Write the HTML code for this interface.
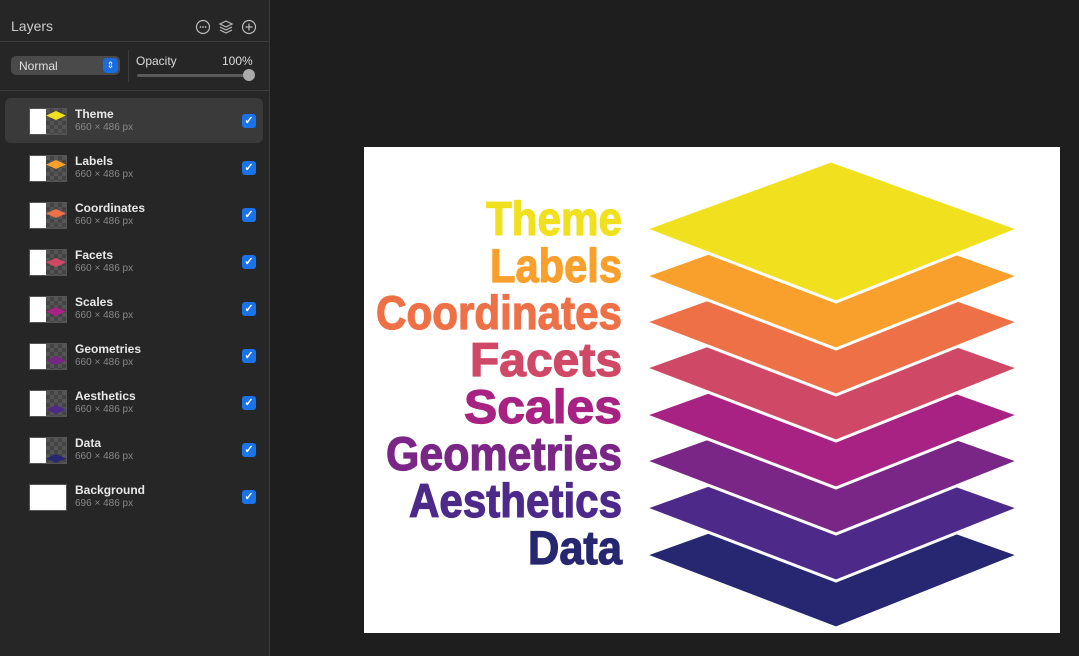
<!DOCTYPE html>
<html><head><meta charset="utf-8"><style>
body{margin:0;width:1079px;height:656px;background:#1e1e1e;font-family:"Liberation Sans",sans-serif;overflow:hidden;position:relative}
.side{position:absolute;left:0;top:0;width:269px;height:656px;background:#262626;border-right:1px solid #3a3a3a}
.t{position:absolute;color:#ddd}
.row{position:absolute;left:5px;width:258px;height:45px}
.row.sel{background:#3a3a3a;border-radius:6px}
.thumb{position:absolute;left:24px;top:10px;width:36px;height:25px;background:#fff;border:1px solid #555}
.thumb .ck{position:absolute;left:16px;top:0;width:20px;height:25px;background:repeating-conic-gradient(#444 0 25%,#555 0 50%) 0 0/8px 8px}
.thumb .d{position:absolute;left:16px;top:2px;width:20px;height:9px;clip-path:polygon(50% 0,100% 50%,50% 100%,0 50%)}
.nm{position:absolute;left:70px;top:9px;color:#e8e8e8;font-size:12px;font-weight:bold}
.sz{position:absolute;left:70px;top:24px;color:#888;font-size:10px}
.cb{position:absolute;left:237px;top:16px;width:14px;height:14px;background:#1a73e8;border-radius:3px;color:#fff;font-size:11px;line-height:14px;text-align:center;font-weight:bold}
</style></head><body>
<div class="side">
<div class="t" style="left:11px;top:18px;font-size:14px;color:#ccc">Layers</div>
<svg style="position:absolute;left:195px;top:19px" width="64" height="16"><g fill="none" stroke="#bbb" stroke-width="1.2"><circle cx="8" cy="8" r="6.5"/><circle cx="54" cy="8" r="6.5"/><path d="M54 4.5v7M50.5 8h7"/><path d="M31 2l6 3-6 3-6-3z M25 8l6 3 6-3 M25 11l6 3 6-3"/></g><g fill="#bbb"><circle cx="5.5" cy="8" r="0.9"/><circle cx="8" cy="8" r="0.9"/><circle cx="10.5" cy="8" r="0.9"/></g></svg>
<div style="position:absolute;left:0;top:41px;width:269px;height:1px;background:#3c3c3c"></div>
<div style="position:absolute;left:11px;top:56px;width:109px;height:19px;background:#4a4a4a;border-radius:5px"></div>
<div class="t" style="left:19px;top:59px;font-size:12px;color:#e0e0e0">Normal</div>
<div style="position:absolute;left:103px;top:58px;width:15px;height:15px;background:#1a6be0;border-radius:4px;color:#fff;font-size:9px;text-align:center;line-height:15px">⇕</div>
<div style="position:absolute;left:128px;top:50px;width:1px;height:32px;background:#3c3c3c"></div>
<div class="t" style="left:136px;top:54px;font-size:12px">Opacity</div>
<div class="t" style="left:222px;top:54px;font-size:12px">100%</div>
<div style="position:absolute;left:137px;top:74px;width:112px;height:3px;background:#5a5a5a;border-radius:2px"></div>
<div style="position:absolute;left:243px;top:69px;width:12px;height:12px;background:#aaa;border-radius:50%"></div>
<div style="position:absolute;left:0;top:90px;width:269px;height:1px;background:#3c3c3c"></div>

<div class="row sel" style="top:98px"><div class="thumb"><div class="ck"></div><div class="d" style="background:#f0e01e"></div></div><div class="nm">Theme</div><div class="sz">660 × 486 px</div><div class="cb">✓</div></div>
<div class="row" style="top:145px"><div class="thumb"><div class="ck"></div><div class="d" style="background:#f9a02c;top:4px"></div></div><div class="nm">Labels</div><div class="sz">660 × 486 px</div><div class="cb">✓</div></div>
<div class="row" style="top:192px"><div class="thumb"><div class="ck"></div><div class="d" style="background:#ee7046;top:6px"></div></div><div class="nm">Coordinates</div><div class="sz">660 × 486 px</div><div class="cb">✓</div></div>
<div class="row" style="top:239px"><div class="thumb"><div class="ck"></div><div class="d" style="background:#cf4866;top:8px"></div></div><div class="nm">Facets</div><div class="sz">660 × 486 px</div><div class="cb">✓</div></div>
<div class="row" style="top:286px"><div class="thumb"><div class="ck"></div><div class="d" style="background:#a72283;top:10px"></div></div><div class="nm">Scales</div><div class="sz">660 × 486 px</div><div class="cb">✓</div></div>
<div class="row" style="top:333px"><div class="thumb"><div class="ck"></div><div class="d" style="background:#792686;top:12px"></div></div><div class="nm">Geometries</div><div class="sz">660 × 486 px</div><div class="cb">✓</div></div>
<div class="row" style="top:380px"><div class="thumb"><div class="ck"></div><div class="d" style="background:#4d2a8a;top:14px"></div></div><div class="nm">Aesthetics</div><div class="sz">660 × 486 px</div><div class="cb">✓</div></div>
<div class="row" style="top:427px"><div class="thumb"><div class="ck"></div><div class="d" style="background:#262770;top:16px"></div></div><div class="nm">Data</div><div class="sz">660 × 486 px</div><div class="cb">✓</div></div>
<div class="row" style="top:474px"><div class="thumb" style="width:36px"></div><div class="nm">Background</div><div class="sz">696 × 486 px</div><div class="cb">✓</div></div>
</div>

<svg style="position:absolute;left:0;top:0" width="1079" height="656">
<rect x="364" y="147" width="696" height="486" fill="#fff"/>
<g stroke="#fff" stroke-width="3" stroke-linejoin="miter">
<polygon points="831,488 1019,555 836,628 645,555" fill="#262770"/>
<polygon points="831,441 1019,508 836,581 645,508" fill="#4d2a8a"/>
<polygon points="831,394 1019,461 836,534 645,461" fill="#792686"/>
<polygon points="831,348 1019,415 836,488 645,415" fill="#a72283"/>
<polygon points="831,301 1019,368 836,441 645,368" fill="#cf4866"/>
<polygon points="831,255 1019,322 836,395 645,322" fill="#ee7046"/>
<polygon points="831,209 1019,276 836,349 645,276" fill="#f9a02c"/>
<polygon points="831,161 1019,229 836,302 645,229" fill="#f0e01e"/>
</g>
<g font-family="'Liberation Sans Narrow','Liberation Sans',sans-serif" font-weight="bold" font-size="47" stroke-width="1.2">
<text x="486" y="235" textLength="136" lengthAdjust="spacingAndGlyphs" fill="#f0e01e" stroke="#f0e01e">Theme</text>
<text x="490" y="282" textLength="132" lengthAdjust="spacingAndGlyphs" fill="#f9a02c" stroke="#f9a02c">Labels</text>
<text x="376" y="329" textLength="246" lengthAdjust="spacingAndGlyphs" fill="#ee7046" stroke="#ee7046">Coordinates</text>
<text x="470" y="376" textLength="152" lengthAdjust="spacingAndGlyphs" fill="#cf4866" stroke="#cf4866">Facets</text>
<text x="464" y="423" textLength="158" lengthAdjust="spacingAndGlyphs" fill="#a72283" stroke="#a72283">Scales</text>
<text x="386" y="470" textLength="236" lengthAdjust="spacingAndGlyphs" fill="#792686" stroke="#792686">Geometries</text>
<text x="409" y="517" textLength="213" lengthAdjust="spacingAndGlyphs" fill="#4d2a8a" stroke="#4d2a8a">Aesthetics</text>
<text x="528" y="564" textLength="94" lengthAdjust="spacingAndGlyphs" fill="#262770" stroke="#262770">Data</text>
</g>
</svg>
</body></html>
